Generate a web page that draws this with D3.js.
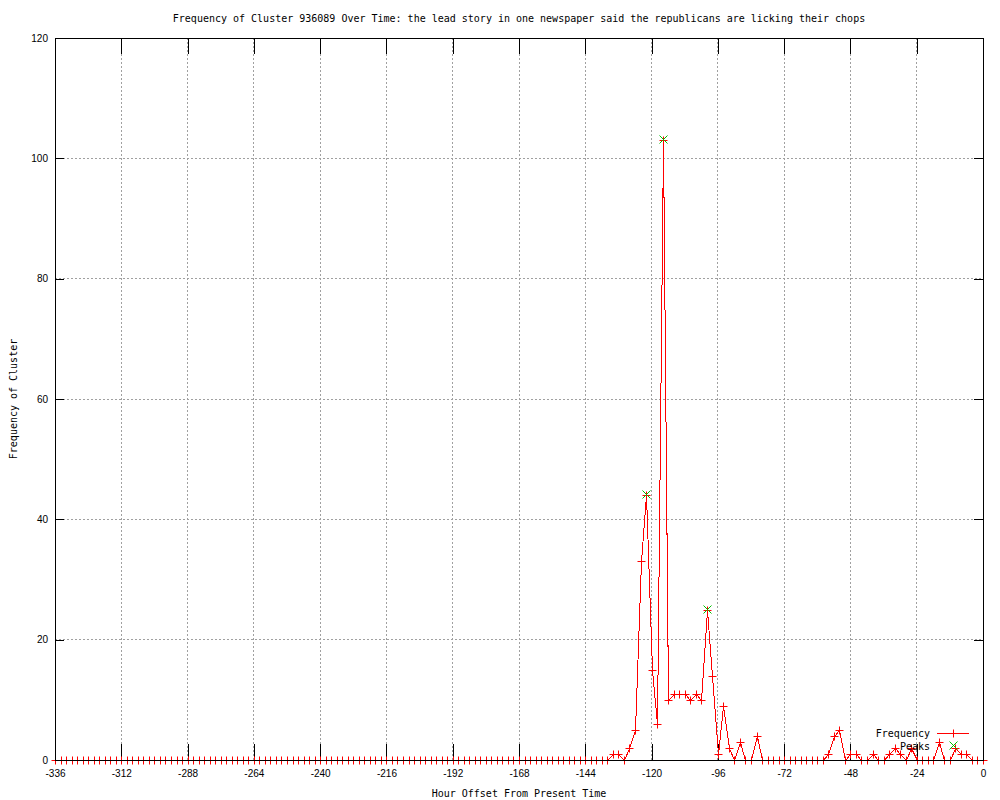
<!DOCTYPE html>
<meta charset="utf-8">
<style>
body {
  margin: 0;
  background: #fff;
}
svg {
  display: block;
  font-family: "DejaVu Sans Mono", "Liberation Mono", monospace;
  font-size: 10px;
}
text {
  fill: black;
}
.grid line {
  stroke: #a0a0a0;
  stroke-width: 1;
  stroke-dasharray: 2,2;
  shape-rendering: crispEdges;
}
.tick line, .border {
  stroke: black;
  stroke-width: 1;
  shape-rendering: crispEdges;
}
.border {
  fill: none;
}
.freq-line {
  fill: none;
  stroke: #ff0000;
  stroke-width: 1;
  shape-rendering: crispEdges;
}
.freq-point {
  fill: none;
  stroke: #ff0000;
  stroke-width: 1;
}
.peak-point {
  fill: none;
  stroke: #00c000;
  stroke-width: 1;
}
</style>
<body>
<script src="https://cdn.jsdelivr.net/npm/d3@7"></script>
<script>

// hour offsets, one sample every 2 hours
var hours = d3.range(-336, 1, 2);

// frequency per sample (-336 .. 0)
var freq = [
  0,0,0,0,0,0,0,0,0,0, 0,0,0,0,0,0,0,0,0,0,
  0,0,0,0,0,0,0,0,0,0, 0,0,0,0,0,0,0,0,0,0,
  0,0,0,0,0,0,0,0,0,0, 0,0,0,0,0,0,0,0,0,0,
  0,0,0,0,0,0,0,0,0,0, 0,0,0,0,0,0,0,0,0,0,
  0,0,0,0,0,0,0,0,0,0, 0,0,0,0,0,0,0,0,0,0,
  0,                                         // -136
  1,1,0,2,5,33,44,15,6,103,                  // -134 .. -116
  10,11,11,11,10,11,10,25,14,1,              // -114 .. -96
  9,2,0,3,0,0,4,                             // -94 .. -82
  0,0,0,0,0,0,0,0,0,0,0,0,                   // -80 .. -58
  1,4,5,0,1,1,0,0,1,0,0,1,2,1,0,2,           // -56 .. -26
  0,0,0,0,3,0,0,2,1,1,0,0,0                  // -24 .. 0
];

var peakHours = [-122, -116, -100];
var peakValues = [44, 103, 25];

var xTicks = d3.range(-336, 1, 24);
var yTicks = [0, 20, 40, 60, 80, 100, 120];

var title = "Frequency of Cluster 936089 Over Time: the lead story in one newspaper said the republicans are licking their chops";

var svgWidth = 1000,
    svgHeight = 800,
    margin = {top: 38, right: 17, bottom: 40, left: 55},
    width = svgWidth - margin.left - margin.right,
    height = svgHeight - margin.top - margin.bottom;

var x = d3.scaleLinear().domain([-336, 0]).range([0, width]);
var y = d3.scaleLinear().domain([0, 120]).range([height, 0]);

// snap to pixel centres so 1px marks stay sharp
function px(v) { return Math.round(v) + 0.5; }

var svg = d3.select("body").append("svg")
    .attr("width", svgWidth)
    .attr("height", svgHeight);

var g = svg.append("g")
    .attr("transform", "translate(" + margin.left + "," + margin.top + ")");

// dotted grid
var grid = g.append("g").attr("class", "grid");
grid.selectAll(".gx")
    .data(xTicks.filter(function(d) { return d > -336 && d < 0; }))
  .enter().append("line")
    .attr("x1", function(d) { return x(d); })
    .attr("x2", function(d) { return x(d); })
    .attr("y1", 0)
    .attr("y2", height);
grid.selectAll(".gy")
    .data(yTicks.filter(function(d) { return d > 0 && d < 120; }))
  .enter().append("line")
    .attr("x1", 0)
    .attr("x2", width)
    .attr("y1", function(d) { return y(d); })
    .attr("y2", function(d) { return y(d); });

// axes, ticks pointing inwards
var fmt = function(d) { return String(d); };

var xAxis = g.append("g")
    .attr("transform", "translate(0," + height + ")")
    .call(d3.axisBottom(x).tickValues(xTicks).tickSize(-16).tickPadding(10).tickFormat(fmt));
xAxis.select(".domain").remove();
xAxis.selectAll("text").style("font-size", "10px").style("font-family", null);

var xAxisTop = g.append("g")
    .call(d3.axisTop(x).tickValues(xTicks).tickSize(-16).tickFormat(""));
xAxisTop.select(".domain").remove();

var yAxis = g.append("g")
    .call(d3.axisLeft(y).tickValues(yTicks).tickSize(-9).tickPadding(7).tickFormat(fmt));
yAxis.select(".domain").remove();
yAxis.selectAll("text").style("font-size", "10px").style("font-family", null);

var yAxisRight = g.append("g")
    .attr("transform", "translate(" + width + ",0)")
    .call(d3.axisRight(y).tickValues(yTicks).tickSize(-9).tickFormat(""));
yAxisRight.select(".domain").remove();

// frequency series
var data = hours.map(function(h, i) { return {h: h, v: freq[i]}; });

var line = d3.line()
    .x(function(d) { return px(x(d.h)); })
    .y(function(d) { return px(y(d.v)); });

g.append("path")
    .datum(data)
    .attr("class", "freq-line")
    .attr("d", line);

var plus = "M-4,0H4M0,-4V4";
var cross = "M-4,-4L4,4M-4,4L4,-4";

g.selectAll(".freq-point")
    .data(data)
  .enter().append("path")
    .attr("class", "freq-point")
    .attr("transform", function(d) { return "translate(" + px(x(d.h)) + "," + px(y(d.v)) + ")"; })
    .attr("d", plus);

// peaks
g.selectAll(".peak-point")
    .data(peakHours)
  .enter().append("path")
    .attr("class", "peak-point")
    .attr("transform", function(d, i) { return "translate(" + px(x(d)) + "," + (px(y(peakValues[i])) - 1) + ")"; })
    .attr("d", cross);

// border on top
g.append("rect")
    .attr("class", "border")
    .attr("width", width)
    .attr("height", height);

// legend
var legend = svg.append("g");
legend.append("text")
    .attr("x", 930)
    .attr("y", 737)
    .attr("text-anchor", "end")
    .text("Frequency");
legend.append("path")
    .attr("class", "freq-point")
    .attr("d", "M937,733.5H969");
legend.append("path")
    .attr("class", "freq-point")
    .attr("transform", "translate(953.5,733.5)")
    .attr("d", plus);
legend.append("text")
    .attr("x", 930)
    .attr("y", 750)
    .attr("text-anchor", "end")
    .text("Peaks");
legend.append("path")
    .attr("class", "peak-point")
    .attr("transform", "translate(953.5,745.5)")
    .attr("d", cross);

// titles
svg.append("text")
    .attr("x", margin.left + width / 2)
    .attr("y", 22)
    .attr("text-anchor", "middle")
    .text(title);

svg.append("text")
    .attr("x", margin.left + width / 2)
    .attr("y", 797)
    .attr("text-anchor", "middle")
    .text("Hour Offset From Present Time");

svg.append("text")
    .attr("transform", "translate(17," + (margin.top + height / 2) + ") rotate(-90)")
    .attr("text-anchor", "middle")
    .text("Frequency of Cluster");

</script>
